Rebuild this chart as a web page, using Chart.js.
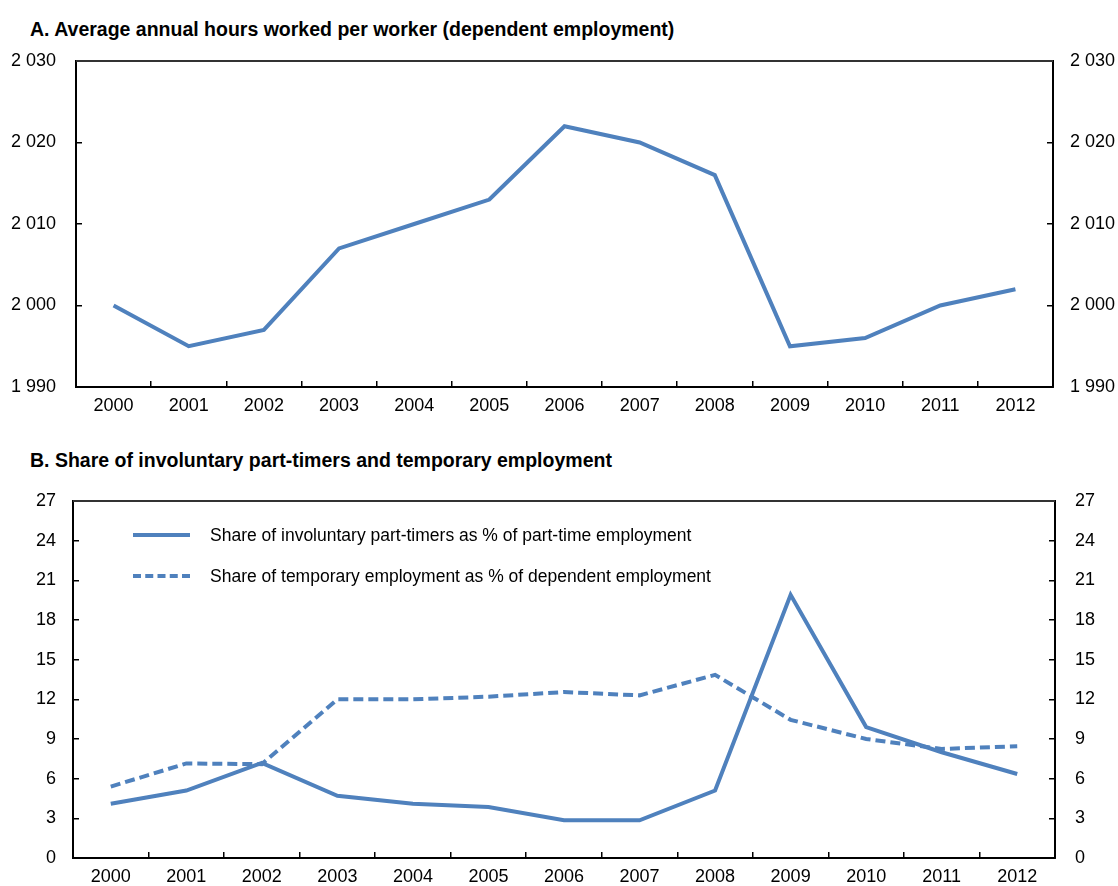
<!DOCTYPE html>
<html>
<head>
<meta charset="utf-8">
<script src="https://cdn.jsdelivr.net/npm/chart.js@4"></script>
<style>
  body { margin: 0; background: #fff; }
  #wrap { position: relative; width: 1118px; height: 886px; font-family: 'Liberation Sans Narrow', 'Arial Narrow', 'Liberation Sans', Arial, sans-serif; color: #000; }
  .title { position: absolute; left: 30px; font-weight: bold; font-size: 19.5px; white-space: nowrap; }
  canvas { position: absolute; left: 0; }
  .leg { position: absolute; left: 133px; font-size: 17.5px; white-space: nowrap; display: flex; align-items: center; height: 24px; }
  .leg span.line { display: inline-block; width: 57px; height: 0; border-top: 4px solid #4f81bd; margin-right: 20px; }
  .leg span.dash { border-top: 4px dashed #4f81bd; }
</style>
</head>
<body>
<div id="wrap">
  <div class="title" style="top:18px">A. Average annual hours worked per worker (dependent employment)</div>
  <canvas id="chartA" width="1118" height="385" style="top:45px"></canvas>
  <div class="title" style="top:449px">B. Share of involuntary part-timers and temporary employment</div>
  <canvas id="chartB" width="1118" height="401" style="top:485px"></canvas>
  <div class="leg" style="top:523px"><span class="line"></span><span id="lab1"></span></div>
  <div class="leg" style="top:564px"><span class="line dash"></span><span id="lab2"></span></div>
</div>
<script>
const years = ['2000','2001','2002','2003','2004','2005','2006','2007','2008','2009','2010','2011','2012'];
const hoursWorked = [2000, 1995, 1997, 2007, 2010, 2013, 2022, 2020, 2016, 1995, 1996, 2000, 2002];
const involuntaryPT = [4.1, 5.1, 7.2, 4.7, 4.1, 3.85, 2.85, 2.85, 5.1, 19.9, 9.9, 8.0, 6.35];
const temporaryEmp = [5.4, 7.15, 7.1, 12.0, 12.0, 12.2, 12.55, 12.3, 13.85, 10.45, 9.0, 8.25, 8.45];
const labelPT = 'Share of involuntary part-timers as % of part-time employment';
const labelTemp = 'Share of temporary employment as % of dependent employment';

const blue = '#4f81bd';
const FONT = "'Liberation Sans Narrow', 'Arial Narrow', 'Liberation Sans', Arial, sans-serif";
Chart.defaults.font.family = FONT;
Chart.defaults.font.size = 18;
Chart.defaults.color = '#000';

document.getElementById('lab1').textContent = labelPT;
document.getElementById('lab2').textContent = labelTemp;

const fmt = v => String(v).replace(/\B(?=(\d{3})+(?!\d))/g, ' ');

// top edge of the plot frame
const frameTop = {
  id: 'frameTop',
  afterDraw(chart) {
    const a = chart.chartArea, ctx = chart.ctx;
    ctx.save();
    ctx.strokeStyle = '#333';
    ctx.lineWidth = 2;
    ctx.beginPath();
    ctx.moveTo(a.left, a.top);
    ctx.lineTo(a.right, a.top);
    ctx.stroke();
    ctx.restore();
  }
};

function yAxis(pos, min, max, step, width, gap) {
  return {
    position: pos, min: min, max: max,
    ticks: { stepSize: step, padding: gap + 6, callback: fmt },
    grid: { drawOnChartArea: false, tickLength: -6, color: '#000', lineWidth: 1.5 },
    border: { color: '#000', width: 2 },
    afterFit(s) { s.width = width; s.paddingTop = 0; s.paddingBottom = 0; }
  };
}

function makeChart(id, datasets, yMin, yMax, step, leftW, rightW, xH, gapL, gapR) {
  return new Chart(document.getElementById(id), {
    type: 'line',
    data: { labels: years, datasets: datasets },
    options: {
      responsive: false,
      animation: false,
      layout: { padding: { top: 16 } },
      plugins: { legend: { display: false }, tooltip: { enabled: false } },
      elements: { point: { radius: 0 }, line: { tension: 0, borderWidth: 4, borderCapStyle: 'butt' } },
      scales: {
        x: {
          offset: true,
          ticks: { padding: 14, autoSkip: false, maxRotation: 0 },
          grid: { offset: true, drawOnChartArea: false, tickLength: -6, color: '#000', lineWidth: 1.5 },
          border: { color: '#000', width: 2 },
          afterFit(s) { s.height = xH; }
        },
        y: yAxis('left', yMin, yMax, step, leftW, gapL),
        y2: yAxis('right', yMin, yMax, step, rightW, gapR)
      }
    },
    plugins: [frameTop]
  });
}

makeChart('chartA', [
  { label: 'Hours', data: hoursWorked, borderColor: blue, yAxisID: 'y' }
], 1990, 2030, 10, 76, 65, 43, 20, 17);

makeChart('chartB', [
  { label: labelPT, data: involuntaryPT, borderColor: blue, yAxisID: 'y' },
  { label: labelTemp, data: temporaryEmp, borderColor: blue, borderDash: [10, 5], yAxisID: 'y' }
], 0, 27, 3, 73, 63, 28, 17, 20);
</script>
</body>
</html>
